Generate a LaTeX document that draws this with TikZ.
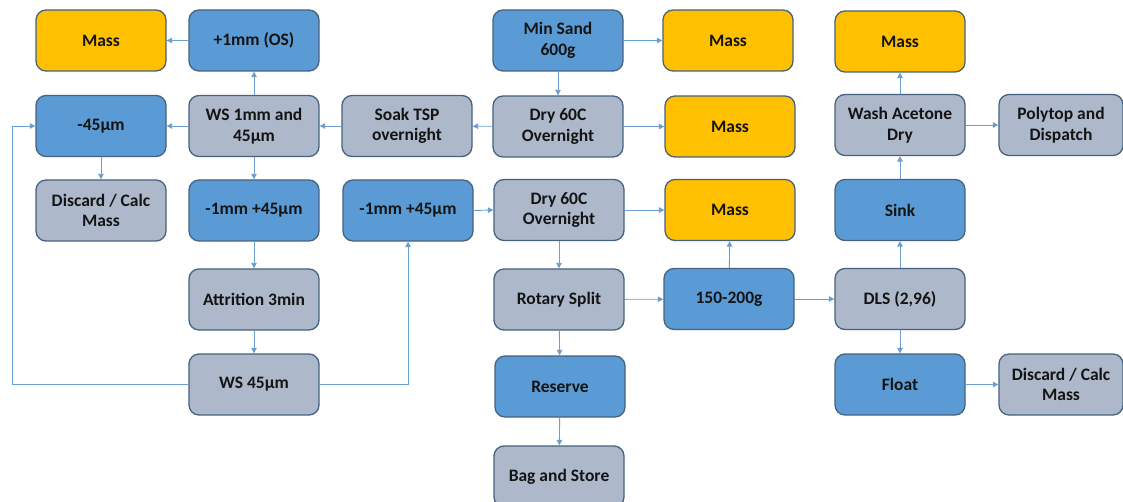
\documentclass[tikz,border=0pt]{standalone}
\usepackage{fontspec}
\setmainfont{Carlito}
\usetikzlibrary{arrows.meta}
\definecolor{bfill}{HTML}{5B9BD5}
\definecolor{gfill}{HTML}{ADB9CA}
\definecolor{ofill}{HTML}{FFC000}
\definecolor{bord}{HTML}{46627F}
\definecolor{arrc}{HTML}{6A9FCF}
\definecolor{txt}{HTML}{141414}
\tikzset{
  box/.style={draw=bord, line width=1.3pt, rounded corners=10pt, minimum width=130pt, minimum height=61pt, inner sep=0pt, align=center, text=txt, font=\fontsize{17.5}{20.5}\selectfont\bfseries},
  bluebox/.style={box, fill=bfill},
  greybox/.style={box, fill=gfill},
  massbox/.style={box, fill=ofill},
  arr/.style={draw=arrc, line width=0.9pt, -{Triangle[length=5.5pt,width=5.5pt]}}
}
\begin{document}
\begin{tikzpicture}[x=1pt,y=-1pt]
\useasboundingbox (0,0) rectangle (1123,502);
\clip (0,0) rectangle (1123,502);
\fill[white] (0,0) rectangle (1123,502);
% column A
\node[massbox] (a1) at (101,40.5) {Mass};
\node[bluebox] (a2) at (101,126) {-45µm};
\node[greybox] (a3) at (101,210.5) {Discard / Calc\\Mass};
% column B
\node[bluebox] (b1) at (254,40.5) {+1mm (OS)};
\node[greybox] (b2) at (254,126) {WS 1mm and\\45µm};
\node[bluebox] (b3) at (254,210.5) {-1mm +45µm};
\node[greybox] (b4) at (254,299.5) {Attrition 3min};
\node[greybox] (b5) at (254,384.5) {WS 45µm};
% column C
\node[greybox] (c2) at (407,126) {Soak TSP\\overnight};
\node[bluebox] (c3) at (408,210.5) {-1mm +45µm};
% column D
\node[bluebox] (d1) at (558,40.5) {Min Sand\\600g};
\node[greybox] (d2) at (558,126.5) {Dry 60C\\Overnight};
\node[greybox] (d3) at (559,210) {Dry 60C\\Overnight};
\node[greybox] (d4) at (559,299.5) {Rotary Split};
\node[bluebox] (d5) at (560,386.5) {Reserve};
\node[greybox] (d6) at (559,476.5) {Bag and Store};
% column E
\node[massbox] (e1) at (728,40.5) {Mass};
\node[massbox] (e2) at (730,126.5) {Mass};
\node[massbox] (e3) at (730,210) {Mass};
\node[bluebox] (e4) at (729,299) {150-200g};
% column F
\node[massbox] (f1) at (900,41.5) {Mass};
\node[greybox] (f2) at (900,125) {Wash Acetone\\Dry};
\node[bluebox] (f3) at (900,210) {Sink};
\node[greybox] (f4) at (900,299) {DLS (2,96)};
\node[bluebox] (f5) at (900,384.5) {Float};
% column G
\node[greybox, minimum width=124pt] (g2) at (1061,125) {Polytop and\\Dispatch};
\node[greybox, minimum width=124pt] (g5) at (1061,384.5) {Discard / Calc\\Mass};
% connectors
\draw[arr] (b1) -- (a1);
\draw[arr] (b2) -- (b1);
\draw[arr] (b2) -- (a2);
\draw[arr] (c2) -- (b2);
\draw[arr] (d2) -- (c2);
\draw[arr] (d1) -- (d2);
\draw[arr] (d1) -- (e1);
\draw[arr] (d2) -- (e2);
\draw[arr] (a2) -- (a3);
\draw[arr] (b2) -- (b3);
\draw[arr] (b3) -- (b4);
\draw[arr] (b4) -- (b5);
\draw[arr] (b5.west) -- ++(-176,0) |- (a2.west);
\draw[arr] (b5.east) -| (c3.south);
\draw[arr] (c3.east) -- (d3.west);
\draw[arr] (d3) -- (e3);
\draw[arr] (d3) -- (d4);
\draw[arr] (d4) -- (d5);
\draw[arr] (d5) -- (d6);
\draw[arr] (d4) -- (e4);
\draw[arr] (e4) -- (e3);
\draw[arr] (e4) -- (f4);
\draw[arr] (f4) -- (f3);
\draw[arr] (f4) -- (f5);
\draw[arr] (f3) -- (f2);
\draw[arr] (f2) -- (f1);
\draw[arr] (f2) -- (g2);
\draw[arr] (f5) -- (g5);
\end{tikzpicture}
\end{document}
